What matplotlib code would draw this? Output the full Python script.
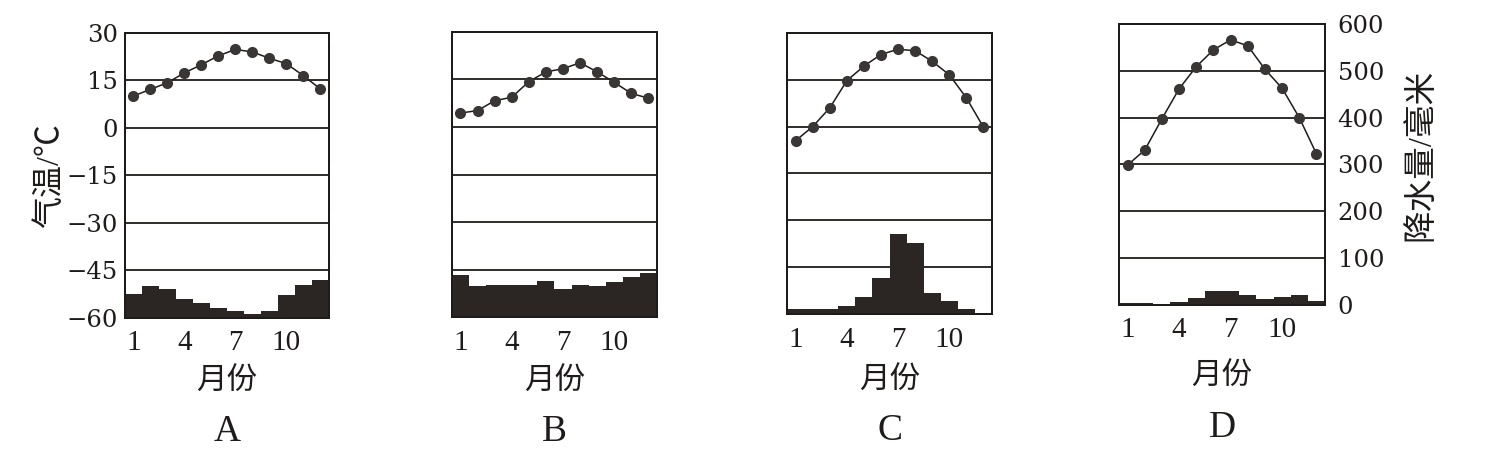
import matplotlib
matplotlib.use('Agg')
import matplotlib.pyplot as plt

plt.rcParams['font.family'] = ['Liberation Serif', 'Noto Sans CJK SC', 'DejaVu Sans']
plt.rcParams['axes.unicode_minus'] = True

months = list(range(1, 13))
month_ticks = [1, 4, 7, 10]
temp_ticks = [-60, -45, -30, -15, 0, 15, 30]
precip_ticks = [0, 100, 200, 300, 400, 500, 600]
panel_names = ['A', 'B', 'C', 'D']

# monthly mean temperature, degC
temp_a = [10.1, 12.2, 14.3, 17.4, 20.0, 22.8, 24.8, 24.0, 22.0, 20.3, 16.5, 12.3]
temp_b = [4.4, 5.2, 8.3, 9.4, 14.3, 17.4, 18.4, 20.3, 17.4, 14.1, 10.6, 9.1]
temp_c = [-4.5, 0.0, 6.0, 14.7, 19.4, 23.1, 24.8, 24.3, 20.9, 16.6, 9.2, -0.2]
temp_d = [-15.2, -10.4, -0.4, 9.2, 16.3, 21.7, 24.9, 23.0, 15.5, 9.4, 0.0, -11.6]

# monthly precipitation, mm
precip_a = [51, 68, 61, 39, 32, 22, 14, 9, 14, 49, 70, 81]
precip_b = [88, 66, 68, 68, 68, 76, 58, 67, 65, 73, 85, 92]
precip_c = [10, 10, 10, 17, 37, 77, 170, 152, 44, 27, 10, 0]
precip_d = [4, 4, 0, 6, 15, 29, 29, 22, 12, 16, 21, 9]

temps = [temp_a, temp_b, temp_c, temp_d]
precips = [precip_a, precip_b, precip_c, precip_d]

# axes boxes in figure fractions (left, bottom, width, height)
boxes = [
    [0.0831, 0.3132, 0.1356, 0.6156],
    [0.3005, 0.3153, 0.1363, 0.6156],
    [0.5233, 0.3218, 0.1363, 0.6070],
    [0.7440, 0.3413, 0.1370, 0.6070],
]
# vertical placement of "月份" and the panel letter, figure fraction
xlabel_y = [0.175, 0.175, 0.177, 0.186]
letter_y = [0.067, 0.067, 0.070, 0.076]

fig = plt.figure(figsize=(15.04, 4.63), dpi=100)
ink = '#1f1b1a'
num_font = ['DejaVu Serif']

for i in range(4):
    ax = fig.add_axes(boxes[i])
    ax2 = ax.twinx()

    ax.set_xlim(0.5, 12.5)
    ax.set_ylim(-60, 30)
    ax2.set_ylim(0, 600)

    ax.set_yticks(temp_ticks)
    ax2.set_yticks(precip_ticks)
    ax.set_xticks(month_ticks)
    ax.yaxis.grid(True, color=ink, linewidth=1.3)
    ax.set_axisbelow(True)

    ax2.bar(months, precips[i], width=1.0, color='#2b2523', edgecolor='none')
    ax.plot(months, temps[i], color=ink, linewidth=1.1, marker='o',
            markersize=7, markerfacecolor='#3a3636', markeredgecolor='#3a3636',
            zorder=3)

    for a in (ax, ax2):
        for s in a.spines.values():
            s.set_color(ink)
            s.set_linewidth(1.4)
        a.tick_params(length=0, colors=ink)

    ax.tick_params(axis='x', pad=9, labelsize=21)
    cx = boxes[i][0] + boxes[i][2] / 2
    fig.text(cx, xlabel_y[i], '月份', ha='center', va='center',
             fontsize=22, color=ink)
    fig.text(cx, letter_y[i], panel_names[i], ha='center', va='center',
             fontsize=27, color=ink)

    if i == 0:
        ax.tick_params(axis='y', pad=5)
        for t in ax.get_yticklabels():
            t.set_family(num_font)
            t.set_fontsize(17.5)
        ax.set_ylabel('气温/℃', fontsize=23, color=ink)
        ax.yaxis.set_label_coords(-0.294, 0.50)
    else:
        ax.tick_params(axis='y', labelleft=False)

    if i == 3:
        ax2.tick_params(axis='y', pad=9)
        for t in ax2.get_yticklabels():
            t.set_family(num_font)
            t.set_fontsize(17.5)
        ax2.set_ylabel('降水量/毫米', fontsize=23.5, color=ink)
        ax2.yaxis.set_label_coords(1.39, 0.535)
    else:
        ax2.tick_params(axis='y', labelright=False)

fig.savefig('out.png', dpi=100, facecolor='white')
